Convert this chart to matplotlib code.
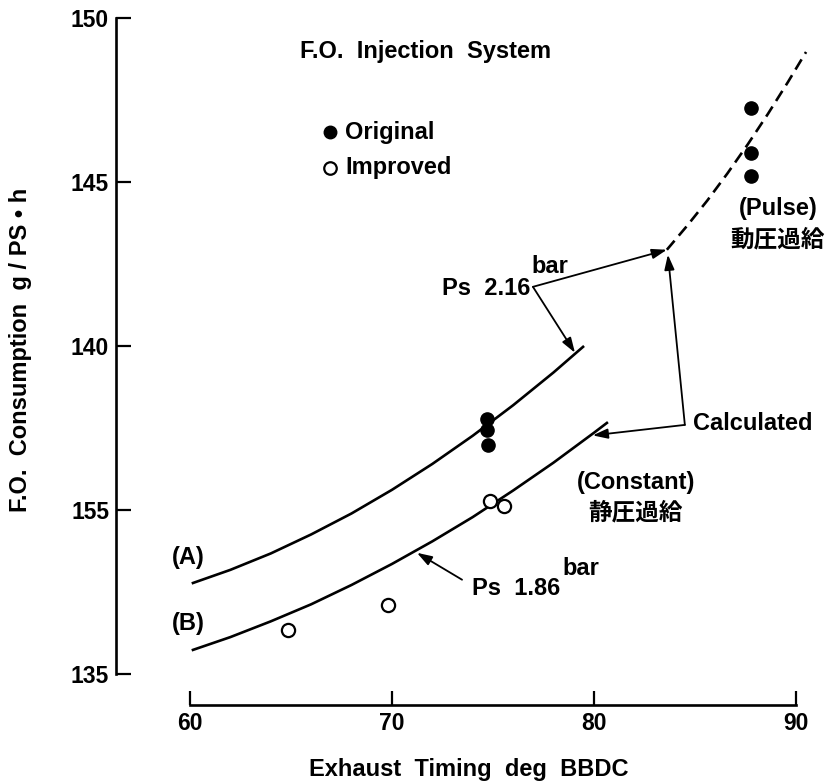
import matplotlib.pyplot as plt

plt.rcParams['font.family'] = ['Liberation Sans', 'Noto Sans CJK JP', 'DejaVu Sans']
plt.rcParams['font.weight'] = 'bold'
plt.rcParams['axes.labelweight'] = 'bold'

# curve (A): Ps 2.16 bar, constant pressure
a_x = [60.15, 62, 64, 66, 68, 70, 72, 74, 76, 78, 79.46]
a_y = [137.77, 138.17, 138.67, 139.25, 139.89, 140.61, 141.40, 142.26, 143.19, 144.19, 144.97]
# curve (B): Ps 1.86 bar, constant pressure
b_x = [60.15, 62, 64, 66, 68, 70, 72, 74, 76, 78, 80, 80.64]
b_y = [135.73, 136.12, 136.60, 137.12, 137.71, 138.35, 139.04, 139.78, 140.59, 141.44, 142.35, 142.65]
# pulse charging (calculated, dashed)
p_x = [83.61, 84.61, 85.61, 86.61, 87.61, 88.61, 89.61, 90.5]
p_y = [147.93, 148.66, 149.43, 150.26, 151.14, 152.07, 153.05, 153.96]

orig_x = [74.7, 74.7, 74.75, 87.77, 87.77, 87.77]
orig_y = [142.77, 142.44, 141.98, 152.26, 150.88, 150.18]
impr_x = [64.85, 69.8, 74.85, 75.54]
impr_y = [136.34, 137.1, 140.27, 140.12]

x_ticks = [60, 70, 80, 90]
y_ticks = [135, 140, 145, 150, 155]
y_tick_labels = ['135', '155', '140', '145', '150']

FS = 17

fig = plt.figure(figsize=(8.32, 7.84), dpi=100)
ax = fig.add_axes([116 / 832, 79 / 784, 704 / 832, 695 / 784])
ax.set_xlim(56.34, 91.19)
ax.set_ylim(134.05, 155.24)

for s in ['top', 'right']:
    ax.spines[s].set_visible(False)
ax.spines['left'].set_bounds(135, 155)
ax.spines['bottom'].set_bounds(60, 90)
ax.spines['left'].set_linewidth(1.9)
ax.spines['bottom'].set_linewidth(1.9)

ax.set_xticks(x_ticks)
ax.set_yticks(y_ticks)
ax.set_yticklabels(y_tick_labels)
ax.tick_params(axis='y', direction='in', length=11, width=1.6, pad=5, labelsize=16.5)
ax.tick_params(axis='x', direction='in', length=10, width=1.6, pad=5, labelsize=16.5)

ax.set_xlabel('Exhaust  Timing  deg  BBDC', fontsize=FS, va='center')
ax.xaxis.set_label_coords(0.501, -0.0935)
ax.set_ylabel('F.O.  Consumption  g / PS \u2022 h', fontsize=FS, va='center')
ax.yaxis.set_label_coords(-0.136, 0.511)

ax.plot(a_x, a_y, color='black', lw=1.9)
ax.plot(b_x, b_y, color='black', lw=1.9)
ax.plot(p_x, p_y, color='black', lw=1.9, linestyle=(0, (4.5, 2.5)))

ax.plot(orig_x, orig_y, 'o', color='black', ms=9.5, zorder=4)
ax.plot(impr_x, impr_y, 'o', mfc='white', mec='black', mew=1.6, ms=9.5, zorder=4)

# legend and title
ax.plot([66.93], [151.52], 'o', color='black', ms=9)
ax.plot([66.93], [150.43], 'o', mfc='white', mec='black', mew=1.6, ms=9)
ax.text(67.7, 151.52, 'Original', fontsize=FS, va='center')
ax.text(67.7, 150.43, 'Improved', fontsize=FS, va='center')
ax.text(65.45, 153.96, 'F.O.  Injection  System', fontsize=FS, va='center')

ax.text(59.1, 138.54, '(A)', fontsize=FS, va='center')
ax.text(59.1, 136.55, '(B)', fontsize=FS, va='center')
ax.text(82.08, 140.82, '(Constant)', fontsize=FS, ha='center', va='center')
ax.text(82.08, 139.91, '静圧過給', fontsize=FS, ha='center', va='center')
ax.text(89.1, 149.2, '(Pulse)', fontsize=FS, ha='center', va='center')
ax.text(89.1, 148.23, '動圧過給', fontsize=FS, ha='center', va='center')
ax.text(84.9, 142.62, 'Calculated', fontsize=FS, va='center')

ax.text(76.83, 146.74, 'Ps  2.16', fontsize=FS, ha='right', va='center')
ax.text(76.9, 147.41, 'bar', fontsize=FS, ha='left', va='center')
ax.text(78.35, 137.59, 'Ps  1.86', fontsize=FS, ha='right', va='center')
ax.text(78.42, 138.2, 'bar', fontsize=FS, ha='left', va='center')

arrow = dict(arrowstyle='-|>, head_length=0.6, head_width=0.2', color='black',
             lw=1.3, mutation_scale=15, shrinkA=0, shrinkB=0)
ax.annotate('', xy=(p_x[0], p_y[0]), xytext=(76.98, 146.8), arrowprops=arrow)
ax.annotate('', xy=(a_x[-1] - 0.4, a_y[-1] - 0.18), xytext=(76.98, 146.8), arrowprops=arrow)
ax.annotate('', xy=(b_x[-1] - 0.7, b_y[-1] - 0.38), xytext=(84.5, 142.59), arrowprops=arrow)
ax.annotate('', xy=(p_x[0] + 0.05, p_y[0] - 0.15), xytext=(84.5, 142.59), arrowprops=arrow)
ax.annotate('', xy=(71.24, 138.69), xytext=(73.47, 137.87), arrowprops=arrow)

fig.savefig('out.png', dpi=100)
